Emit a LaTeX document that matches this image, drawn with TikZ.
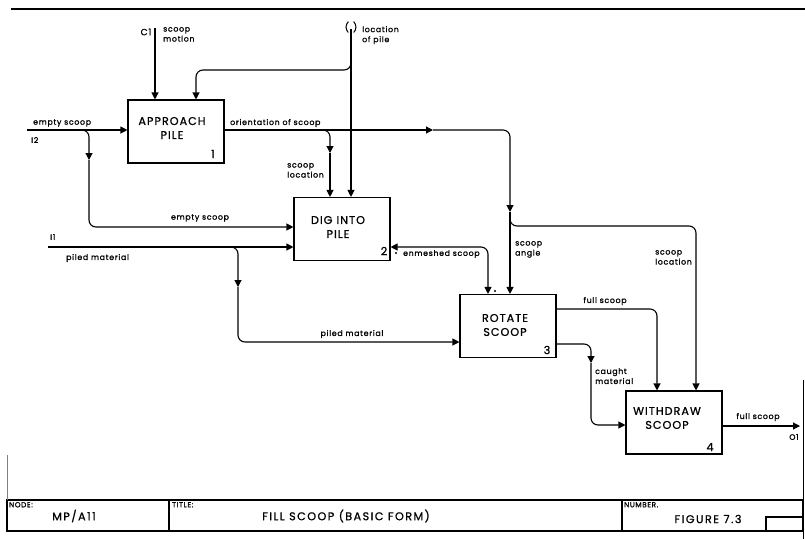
\documentclass[tikz,border=0pt]{standalone}
\usepackage{fontspec}
\setmainfont{Poppins}
\newfontfamily\lblfam[LetterSpace=9,FakeBold=1.2]{Poppins}
\newfontfamily\boxfam[LetterSpace=9,FakeBold=0.9]{Poppins}
\newfontfamily\ftrfam[LetterSpace=13,FakeBold=0.9]{Poppins}
\newcommand{\lblf}{\lblfam\fontsize{7.8}{10}\selectfont}
\newcommand{\boxf}{\boxfam\fontsize{11.2}{14}\selectfont}
\newcommand{\hdrf}{\lblfam\fontsize{7.2}{8}\selectfont}
\newcommand{\ftrf}{\ftrfam\fontsize{11.2}{12}\selectfont}
\usetikzlibrary{arrows.meta}
\begin{document}
\begin{tikzpicture}[x=1pt,y=-1pt,
  box/.style={draw,line width=1.1pt,minimum width=96pt,minimum height=63pt,inner sep=0pt},
  btext/.style={font=\boxf,inner sep=0pt,align=center},
  num/.style={font=\boxf,inner sep=0pt},
  flow/.style={line width=1.1pt,rounded corners=7pt},
  arr/.style={-{Triangle[length=7pt,width=7pt]}},
  barr/.style={{Triangle[length=7pt,width=7pt]}-{Triangle[length=7pt,width=7pt]}},
  lbl/.style={font=\lblf,inner sep=0pt,align=left},
  frame/.style={line width=1.2pt}]
\useasboundingbox (0,0) rectangle (805,539);

% boxes
\node[box] (b1) at (176,131.5) {};
\node[box] (b2) at (342,229) {};
\node[box] (b3) at (508,326) {};
\node[box] (b4) at (674,422.5) {};
\node[btext] (t1) at (172,128) {APPROACH\\PILE};
\node[btext] (t2) at (338,227) {DIG INTO\\PILE};
\node[btext] (t3) at (505,325) {ROTATE\\SCOOP};
\node[btext] (t4) at (667,418) {WITHDRAW\\SCOOP};
\node[num] (n1) at (213,154) {1};
\node[num] (n2) at (384,251) {2};
\node[num] (n3) at (547,350) {3};
\node[num] (n4) at (710,447) {4};

% C1
\coordinate (c1) at (155,28);
\draw[flow,arr] (c1) -- (c1 |- b1.north);
\node[lbl,font=\boxfam\fontsize{9}{10}\selectfont] (c1l) at (146,32) {C1};
\node[lbl,anchor=north west] (c1t) at (163,27) {scoop\\motion};

% C2 (tunnelled)
\coordinate (c2) at (351,29);
\node[inner sep=0pt,font=\boxfam\fontsize{9.5}{10}\selectfont] (c2p) at (351,27) {(\hspace{4pt})};
\draw[flow,arr] (c2) -- (c2 |- b2.north);
\node[lbl,anchor=north west] (c2t) at (362,26) {location\\of pile};
\coordinate (c2br) at (351,58);
\coordinate (c2k) at (196,70);
\draw[flow,arr] (c2br) |- (c2k) -- (c2k |- b1.north);

% I2
\coordinate (i2) at (27,130);
\draw[flow,arr] (i2) -- (i2 -| b1.west);
\node[lbl,anchor=west] (i2t) at (33,123) {empty scoop};
\node[lbl,anchor=west] (i2l) at (31,140) {I2};
\coordinate (i2br) at (80,130);
\coordinate (i2m) at (89,160);
\coordinate (i2k) at (89,227);
\draw[flow,arr] (i2br) -| (i2m);
\draw[flow,arr] (i2m) -- (i2k) -- (i2k -| b2.west);
\node[lbl] (i2t2) at (200,218) {empty scoop};

% I1
\coordinate (i1) at (48,247);
\draw[flow,arr] (i1) -- (i1 -| b2.west);
\node[lbl,anchor=west] (i1l) at (50,237) {I1};
\node[lbl,anchor=west] (i1t) at (66,258) {piled material};
\coordinate (i1br) at (228,247);
\coordinate (i1m) at (238,287);
\coordinate (i1k) at (238,342);
\draw[flow,arr] (i1br) -| (i1m);
\draw[flow,arr] (i1m) -- (i1k) -- (i1k -| b3.west);
\node[lbl] (i1t2) at (352,334) {piled material};

% box 1 output: orientation of scoop
\coordinate (om) at (433,130);
\coordinate (om2) at (510,212);
\draw[flow,arr] (b1.east |- i2) -- (om);
\draw[flow,arr] (om) -| (om2);
\draw[flow,arr] (om2) -- (om2 |- b3.north);
\node[lbl,anchor=west] (ort) at (230,123) {orientation of scoop};
\node[lbl,anchor=north west] (sat) at (515,241) {scoop\\angle};

% scoop location to box 2
\coordinate (slbr) at (320,130);
\coordinate (slm) at (330,153);
\draw[flow,arr] (slbr) -| (slm);
\draw[flow,arr] (slm) -- (slm |- b2.north);
\node[lbl,anchor=north west] (slt) at (287,163) {scoop\\location};

% scoop location to box 4
\coordinate (sl) at (696,226);
\draw[flow,arr] (om2) |- (sl) -- (sl |- b4.north);
\node[lbl,anchor=north west] (sl4t) at (655,250) {scoop\\location};

% enmeshed scoop
\coordinate (em) at (488,247);
\draw[flow,barr] (b2.east |- em) -- (em) -- (em |- b3.north);
\node[lbl,anchor=west] (emt) at (403,254) {enmeshed scoop};
\fill (396,253) circle (1.1pt);
\fill (495,291) circle (1.1pt);

% box 3 outputs
\coordinate (fs) at (657,309);
\draw[flow,arr] (b3.east |- fs) -- (fs) -- (fs |- b4.north);
\node[lbl] (fst) at (605,301) {full scoop};
\coordinate (cm) at (591,363);
\coordinate (cmk) at (591,425);
\draw[flow,arr] (b3.east |- 0,344) -| (cm);
\draw[flow,arr] (cm) -- (cmk) -- (cmk -| b4.west);
\node[lbl,anchor=north west] (cmt) at (595,368) {caught\\material};

% output
\coordinate (o1) at (800,426);
\draw[flow,arr] (b4.east |- o1) -- (o1);
\node[lbl] (o1t) at (758,417) {full scoop};
\node[lbl] (o1l) at (794,437) {O1};

% frame
\draw[line width=1.6pt] (11,9) -- (805,9);
\draw[frame] (7,500) rectangle (803,531);
\draw[frame] (169,500) -- (169,531);
\draw[frame] (622,500) -- (622,531);
\draw[frame] (766,531) -- (766,517) -- (803,517);
\draw[line width=0.6pt,gray] (7,455) -- (7,500);
\draw[line width=0.8pt] (803,380) -- (803,539);

\node[lbl,font=\hdrf,anchor=north west] (nd) at (9,502) {NODE:};
\node[lbl,font=\ftrf] (ndv) at (74,516) {MP/A11};
\node[lbl,font=\hdrf,anchor=north west] (tt) at (172,502) {TITLE:};
\node[lbl,font=\ftrf] (ttv) at (346,516) {FILL SCOOP (BASIC FORM)};
\node[lbl,font=\hdrf,anchor=north west] (nm) at (624,502) {NUMBER.};
\node[lbl,font=\ftrf] (nmv) at (708,519) {FIGURE 7.3};
\end{tikzpicture}
\end{document}
